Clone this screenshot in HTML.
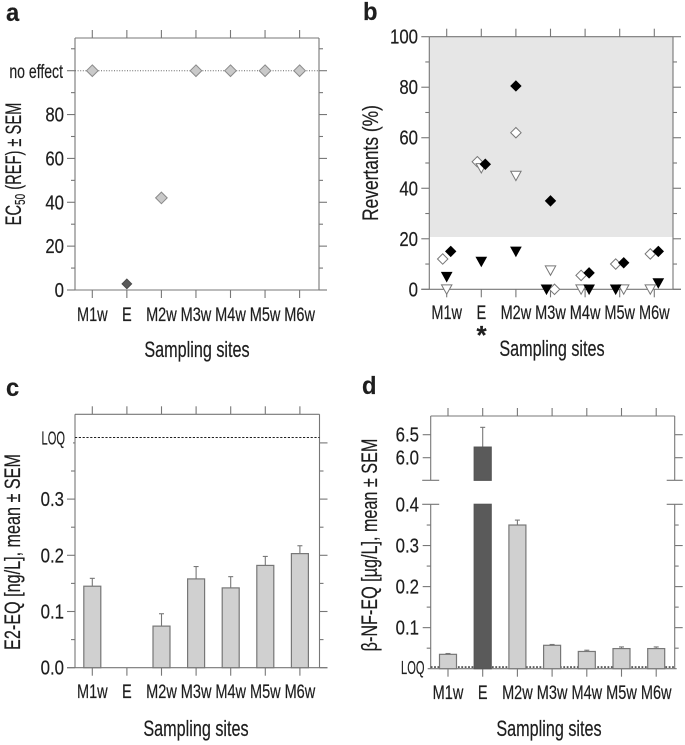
<!DOCTYPE html>
<html>
<head>
<meta charset="utf-8">
<title>Sampling site bioassay results</title>
<style>
html,body{margin:0;padding:0;background:#fff;width:685px;height:745px;overflow:hidden}
svg{display:block}
text{font-family:"Liberation Sans",sans-serif;fill:#1e1e1e;stroke:#1e1e1e;stroke-width:.2}
</style>
</head>
<body>
<svg id="fig" xmlns="http://www.w3.org/2000/svg" width="685" height="745" viewBox="0 0 685 745"></svg>
<script>
const sites = ['M1w','E','M2w','M3w','M4w','M5w','M6w'];

// panel a
const aTicks = [0,20,40,60,80];
const aMinor = [10,30,50,70,90,110];
const aValues = [100,2.8,42,100,100,100,100];
const aNoEffect = 100;

// panel b
const bTicks = [0,20,40,60,80,100];
const bMinor = [10,30,50,70,90];
const bThreshold = 20.7;
const bBlackDiamond = [15,49.5,80.5,35,6.5,10.5,15];
const bOpenDiamond = [12,50.5,62,0,5.5,10,14];
const bBlackTriangle = [5,11,15,0,0,0,2.5];
const bOpenTriangle = [0,48,45,7.5,0,0,0];
// slot within a category: -1 left, 0 centre, 1 right
const bBlackDiamondSlot = [1,1,0,0,1,1,1];
const bOpenDiamondSlot = [-1,-1,0,1,-1,-1,-1];
const bBlackTriangleSlot = [0,0,0,-1,1,-1,1];
const bOpenTriangleSlot = [0,0,0,0,-1,1,-1];

// panel c
const cTicks = [0,0.1,0.2,0.3];
const cTickLabels = ['0.0','0.1','0.2','0.3'];
const cMinor = [0.05,0.15,0.25,0.35];
const cLoq = 0.4095;
const cValues = [0.145,0,0.074,0.158,0.142,0.182,0.203];
const cErrors = [0.014,0,0.022,0.022,0.02,0.016,0.014];

// panel d
const dLowerTicks = [0.1,0.2,0.3,0.4];
const dLowerLabels = ['0.1','0.2','0.3','0.4'];
const dUpperTicks = [6,6.5];
const dUpperLabels = ['6.0','6.5'];
const dMinor = [0.05,0.15,0.25,0.35];
const dLoq = 0.004;
const dValues = [0.035,6.23,0.35,0.057,0.042,0.049,0.049];
const dErrors = [0.002,0.43,0.012,0.002,0.003,0.004,0.004];

const NS = 'http://www.w3.org/2000/svg';
const root = document.getElementById('fig');
const AXIS = '#777';
const TITLE_SIZE = 22;
const TICK_SIZE = 20;
const SITE_SIZE = 19;

function make(tag, attrs, name, parent) {
  const el = document.createElementNS(NS, tag);
  for (const k in attrs) el.setAttribute(k, attrs[k]);
  
  
  (parent || root).appendChild(el);
  return el;
}
function line(g, x1, y1, x2, y2, name, stroke, w, dash) {
  const a = {x1:x1, y1:y1, x2:x2, y2:y2, stroke:stroke||AXIS, 'stroke-width':w||1.1};
  if (dash) a['stroke-dasharray'] = dash;
  return make('line', a, name, g);
}
function label(g, str, x, y, size, anchor, sx, name, rot, weight) {
  const t = 'translate(' + x + ' ' + y + ')' + (rot ? ' rotate(-90)' : '') + ' scale(' + sx + ' 1)';
  const a = {transform:t, 'font-size':size, 'text-anchor':anchor};
  if (weight) a['font-weight'] = weight;
  const el = make('text', a, name, g);
  el.textContent = str;
  return el;
}
function linear(y0, pxPerUnit) { return v => y0 - v * pxPerUnit; }
function bandX(x0, step) { return i => x0 + i * step; }

function frame(g, box, xf, yf, majors, minors, lbls, lblX) {
  line(g, box.l, box.t, box.r, box.t, 'top-axis-line');
  line(g, box.l, box.t, box.l, box.b, 'left-axis-line');
  line(g, box.r, box.t, box.r, box.b, 'right-axis-line');
  line(g, box.l - 8, box.b, box.r + 8, box.b, 'x-axis-line');
  sites.forEach((s, i) => {
    line(g, xf(i), box.t - 8, xf(i), box.t, 'top-tick-' + s);
    line(g, xf(i), box.b, xf(i), box.b + 8, 'x-tick-' + s);
    label(g, s, xf(i), box.lblY, SITE_SIZE, 'middle', 0.765, 'x-label-' + s);
  });
  majors.forEach((v, i) => {
    line(g, box.l - 8, yf(v), box.l, yf(v), 'y-tick-left');
    line(g, box.r, yf(v), box.r + 8, yf(v), 'y-tick-right');
    if (lbls[i] !== '') label(g, lbls[i], lblX, yf(v) + 7, TICK_SIZE, 'end', 0.84, 'y-label-' + lbls[i]);
  });
  minors.forEach(v => {
    line(g, box.l - 4, yf(v), box.l, yf(v), 'y-minor-tick-left');
    line(g, box.r, yf(v), box.r + 4, yf(v), 'y-minor-tick-right');
  });
}
function diamond(g, x, y, r, fill, stroke, name) {
  return make('polygon', {
    points: x + ',' + (y - r) + ' ' + (x + r) + ',' + y + ' ' + x + ',' + (y + r) + ' ' + (x - r) + ',' + y,
    fill: fill, stroke: stroke, 'stroke-width': 1
  }, name, g);
}
function triangle(g, x, y, r, fill, stroke, name) {
  return make('polygon', {
    points: (x - r) + ',' + (y - r * 0.85) + ' ' + (x + r) + ',' + (y - r * 0.85) + ' ' + x + ',' + (y + r * 0.95),
    fill: fill, stroke: stroke, 'stroke-width': 1
  }, name, g);
}
function bar(g, x, top, bottom, fill, name) {
  return make('rect', {x: x - 8.5, y: top, width: 17, height: bottom - top, fill: fill, stroke: fill === '#5a5a5a' ? '#555' : '#777', 'stroke-width': 1.2}, name, g);
}
function errBar(g, x, from, to, name) {
  line(g, x, from, x, to, name, '#777', 1.1);
  line(g, x - 2.5, to, x + 2.5, to, name + '-cap', '#777', 1.1);
}

/* Panel A */
(function () {
  const g = make('g', {}, 'panel-a');
  const box = {l: 75, r: 319, t: 38, b: 290, lblY: 321};
  const xf = bandX(92.3, 34.55);
  const yf = linear(290, 2.193);
  label(g, 'a', 6, 21, 25, 'start', 0.95, 'panel-letter-a', false, 'bold');
  frame(g, box, xf, yf, aTicks.concat([aNoEffect]), aMinor, aTicks.map(String).concat(['']), 64);
  line(g, box.l, yf(aNoEffect), box.r, yf(aNoEffect), 'no-effect-line', '#666', 1, '1 1.6');
  label(g, 'no effect', 63, yf(aNoEffect) + 7.5, 19, 'end', 0.74, 'no-effect-label');
  aValues.forEach((v, i) => {
    const dark = sites[i] === 'E';
    diamond(g, xf(i), yf(v), dark ? 4.8 : 5.8, dark ? '#5a5a5a' : '#c9c9c9', dark ? '#4a4a4a' : '#8a8a8a', 'point-' + sites[i]);
  });
  const title = label(g, '', 21, 164, TITLE_SIZE, 'middle', 0.667, 'y-axis-title', true);
  title.textContent = 'EC';
  const sub = make('tspan', {dy: 4, 'font-size': 15}, 'y-title-subscript', title);
  sub.textContent = '50';
  const rest = make('tspan', {dy: -4}, 'y-title-rest', title);
  rest.textContent = ' (REF) ± SEM';
  label(g, 'Sampling sites', 197, 357, TITLE_SIZE, 'middle', 0.736, 'x-axis-title');
})();

/* Panel B */
(function () {
  const g = make('g', {}, 'panel-b');
  const box = {l: 429.3, r: 673, t: 36.7, b: 289.3, lblY: 319};
  const xf = bandX(446.7, 34.6);
  const yf = linear(289.3, 2.526);
  const shift = 4;
  label(g, 'b', 363, 20, 25, 'start', 0.95, 'panel-letter-b', false, 'bold');
  make('rect', {x: box.l, y: yf(100), width: box.r - box.l, height: yf(bThreshold) - yf(100), fill: '#e6e6e6'}, 'shaded-region', g);
  frame(g, box, xf, yf, bTicks, bMinor, bTicks.map(String), 418);
  sites.forEach((s, i) => {
    diamond(g, xf(i) + bOpenDiamondSlot[i] * shift, yf(bOpenDiamond[i]), 5.2, '#fff', '#777', 'open-diamond-' + s);
    triangle(g, xf(i) + bOpenTriangleSlot[i] * shift, yf(bOpenTriangle[i]), 5.2, '#fff', '#777', 'open-triangle-' + s);
    diamond(g, xf(i) + bBlackDiamondSlot[i] * shift, yf(bBlackDiamond[i]), 5, '#000', '#000', 'black-diamond-' + s);
    triangle(g, xf(i) + bBlackTriangleSlot[i] * shift, yf(bBlackTriangle[i]), 5, '#000', '#000', 'black-triangle-' + s);
  });
  label(g, '*', 481.5, 344, 26, 'middle', 1, 'significance-asterisk', false, 'bold');
  label(g, 'Revertants (%)', 378, 163, TITLE_SIZE, 'middle', 0.79, 'y-axis-title', true);
  label(g, 'Sampling sites', 552, 356, TITLE_SIZE, 'middle', 0.736, 'x-axis-title');
})();

/* Panel C */
(function () {
  const g = make('g', {}, 'panel-c');
  const box = {l: 75, r: 319.5, t: 414.3, b: 667.7, lblY: 698};
  const xf = bandX(92.3, 34.6);
  const yf = linear(667.7, 562);
  label(g, 'c', 6, 396, 25, 'start', 0.95, 'panel-letter-c', false, 'bold');
  frame(g, box, xf, yf, cTicks, cMinor, cTickLabels, 64);
  line(g, box.r, yf(0.4), box.r + 8, yf(0.4), 'y-tick-right-0.4');
  line(g, box.l - 2, yf(0.4), box.l, yf(0.4), 'y-tick-left-0.4');
  line(g, box.l, yf(cLoq), box.r, yf(cLoq), 'loq-line', '#222', 1, '2.2 1.6');
  label(g, 'LOQ', 65, yf(cLoq) + 7, 18.5, 'end', 0.6, 'loq-label');
  sites.forEach((s, i) => {
    if (cValues[i] <= 0) return;
    errBar(g, xf(i), yf(cValues[i]), yf(cValues[i] + cErrors[i]), 'error-bar-' + s);
    bar(g, xf(i), yf(cValues[i]), yf(0), '#d0d0d0', 'bar-' + s);
  });
  label(g, 'E2-EQ [ng/L], mean ± SEM', 20, 552, TITLE_SIZE, 'middle', 0.736, 'y-axis-title', true);
  label(g, 'Sampling sites', 196, 736, TITLE_SIZE, 'middle', 0.736, 'x-axis-title');
})();

/* Panel D */
(function () {
  const g = make('g', {}, 'panel-d');
  const box = {l: 430.7, r: 674.7, t: 416, b: 668.7, lblY: 699};
  const breakTop = 480.3;
  const breakBottom = 504.3;
  const xf = bandX(448, 34.7);
  const low = linear(668.7, 410.5);
  const up = v => 457.7 - (v - 6) * 46;
  const yf = v => v <= 0.4 ? low(v) : up(v);
  label(g, 'd', 362, 394, 25, 'start', 0.95, 'panel-letter-d', false, 'bold');
  line(g, box.l, box.t, box.r, box.t, 'top-axis-line');
  line(g, box.l, box.t, box.l, breakTop, 'left-axis-upper');
  line(g, box.l, breakBottom, box.l, box.b, 'left-axis-lower');
  line(g, box.r, box.t, box.r, breakTop, 'right-axis-upper');
  line(g, box.r, breakBottom, box.r, box.b, 'right-axis-lower');
  line(g, box.l - 3, box.b, box.r + 2, box.b, 'x-axis-line');
  line(g, box.l - 8.5, breakTop, box.l + 8.5, breakTop, 'axis-break-left-upper');
  line(g, box.l - 8.5, breakBottom, box.l + 8.5, breakBottom, 'axis-break-left-lower');
  line(g, box.r - 8, breakTop, box.r + 8, breakTop, 'axis-break-right-upper');
  line(g, box.r - 8, breakBottom, box.r + 8, breakBottom, 'axis-break-right-lower');
  sites.forEach((s, i) => {
    line(g, xf(i), box.t - 8, xf(i), box.t, 'top-tick-' + s);
    line(g, xf(i), box.b, xf(i), box.b + 8, 'x-tick-' + s);
    label(g, s, xf(i), box.lblY, SITE_SIZE, 'middle', 0.765, 'x-label-' + s);
  });
  dLowerTicks.forEach((v, i) => {
    if (v < 0.4) {
      line(g, box.l - 8, low(v), box.l, low(v), 'y-tick-left');
      line(g, box.r, low(v), box.r + 8, low(v), 'y-tick-right');
    }
    label(g, dLowerLabels[i], 419, low(v) + 7, TICK_SIZE, 'end', 0.84, 'y-label-' + dLowerLabels[i]);
  });
  dUpperTicks.forEach((v, i) => {
    line(g, box.l - 8, up(v), box.l, up(v), 'y-tick-left');
    line(g, box.r, up(v), box.r + 8, up(v), 'y-tick-right');
    label(g, dUpperLabels[i], 419, up(v) + 7, TICK_SIZE, 'end', 0.84, 'y-label-' + dUpperLabels[i]);
  });
  dMinor.forEach(v => {
    line(g, box.l - 4, low(v), box.l, low(v), 'y-minor-tick-left');
    line(g, box.r, low(v), box.r + 4, low(v), 'y-minor-tick-right');
  });
  line(g, box.l, low(dLoq), box.r, low(dLoq), 'loq-line', '#444', 1.6, '1.8 1.6');
  label(g, 'LOQ', 424.5, 674, 18.5, 'end', 0.6, 'loq-label');
  sites.forEach((s, i) => {
    const v = dValues[i];
    const broken = v > 0.4;
    const fill = broken ? '#5a5a5a' : '#d0d0d0';
    errBar(g, xf(i), yf(v), yf(v + dErrors[i]), 'error-bar-' + s);
    if (broken) {
      bar(g, xf(i), yf(v), breakTop, fill, 'bar-upper-' + s);
      bar(g, xf(i), breakBottom, low(0), fill, 'bar-lower-' + s);
    } else {
      bar(g, xf(i), yf(v), low(0), fill, 'bar-' + s);
    }
  });
  label(g, 'β-NF-EQ [µg/L], mean ± SEM', 377, 545, TITLE_SIZE, 'middle', 0.736, 'y-axis-title', true);
  label(g, 'Sampling sites', 549, 736, TITLE_SIZE, 'middle', 0.736, 'x-axis-title');
})();
</script>
</body>
</html>
